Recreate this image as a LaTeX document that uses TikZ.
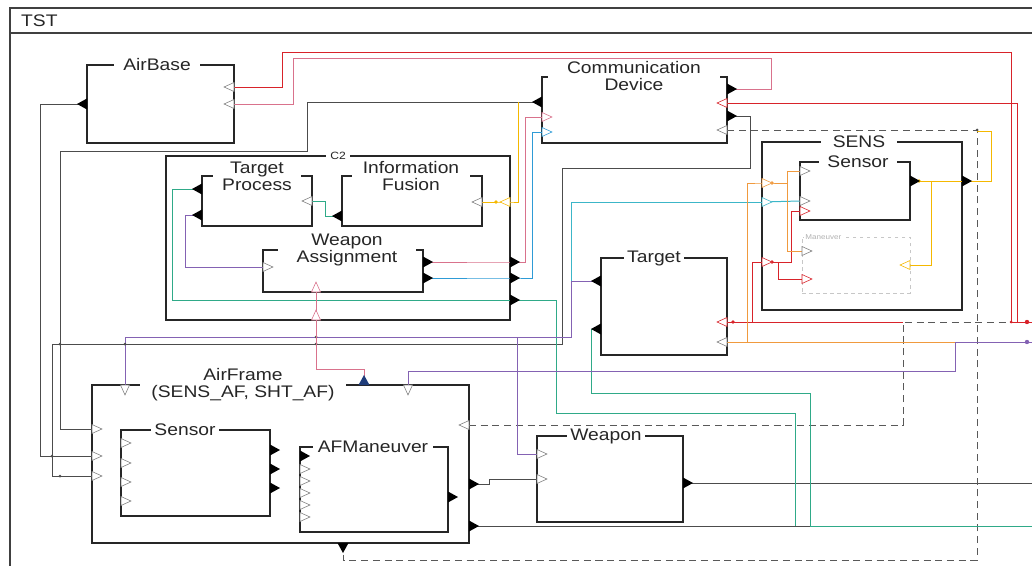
\documentclass[tikz,border=0pt]{standalone}
\usepackage{fontspec}
\setmainfont{Liberation Sans}[FakeStretch=1.15]
\usetikzlibrary{calc,fit}

\newcommand\ttlfont{\fontsize{14.3}{14.5}\selectfont}
\definecolor{redw}{HTML}{D8232A}
\definecolor{pinkw}{HTML}{D9728C}
\definecolor{yelw}{HTML}{F5B800}
\definecolor{bluew}{HTML}{2E9BD6}
\definecolor{tealw}{HTML}{2FAA88}
\definecolor{purpw}{HTML}{8462B3}
\definecolor{orangew}{HTML}{F09A3E}
\definecolor{cyanw}{HTML}{3CB6C8}
\definecolor{navyw}{HTML}{1F3C7A}

\tikzset{
  frame/.style={draw=black!75, line width=2pt},
  blk/.style={draw=black!85, line width=1.4pt, inner sep=0pt},
  subblk/.style={draw=black!22, dashed, line width=0.6pt, inner sep=0pt},
  ttl/.style={fill=white, inner ysep=0.5pt, inner xsep=#1, align=center, font=\ttlfont, text=black!85},
  ttl/.default=4pt,
  wire/.style={line width=0.85pt},
  gw/.style={wire, draw=black!70},
  dw/.style={wire, draw=black!65, dash pattern=on 6pt off 4pt},
  rw/.style={wire, draw=redw},
  pw/.style={wire, draw=pinkw},
  yw/.style={wire, draw=yelw},
  bw/.style={wire, draw=bluew},
  tw/.style={wire, draw=tealw},
  vw/.style={wire, draw=purpw},
  ow/.style={wire, draw=orangew},
  cw/.style={wire, draw=cyanw},
  jd/.style={fill=#1},
  pics/ip/.style={code={\draw[draw=#1, fill=white, line width=0.5pt] (0,-4.5) -- (10,0) -- (0,4.5) -- cycle;}},
  pics/ip/.default=black!50,
  pics/op/.style={code={\fill[#1] (0,-5.5) -- (10,0) -- (0,5.5) -- cycle;}},
  pics/op/.default=black,
}

\begin{document}
\begin{tikzpicture}[x=0.03cm,y=-0.03cm]
  \useasboundingbox (0,0) rectangle (1032,566);
  \draw[frame] (10,570) -- (10,8) -- (1040,8);
  \draw[draw=black!75, line width=1.2pt] (10,33) -- (1040,33);
  \node[anchor=west, font=\ttlfont, text=black!85] (tst) at (17,21) {TST};

  % blocks
  \node[blk, fit={(87,65) (234,143)}] (airbase) {};
  \node[blk, fit={(542,77) (727,143)}] (commdev) {};
  \node[blk, fit={(166,156) (510,320)}] (c2) {};
  \node[blk, fit={(202,176) (312,226)}] (tproc) {};
  \node[blk, fit={(342,176) (482,226)}] (ifus) {};
  \node[blk, fit={(263,250) (423,292)}] (wassign) {};
  \node[blk, fit={(762,142) (962,310)}] (sens) {};
  \node[blk, fit={(800,162) (910,220)}] (ssensor) {};
  \node[subblk, fit={(802,237) (910,293)}] (smanv) {};
  \node[blk, fit={(601,258) (727,355)}] (target) {};
  \node[blk, fit={(92,385) (469,543)}] (airframe) {};
  \node[blk, fit={(121,430) (270,516)}] (afsensor) {};
  \node[blk, fit={(300,447) (448,532)}] (afmanv) {};
  \node[blk, fit={(537,436) (683,522)}] (weapon) {};

  % ports
  \coordinate (ab-o) at (87,104);
  \coordinate (ab-i1) at (234,87);
  \coordinate (ab-i2) at (234,104);
  \coordinate (cd-o1) at (542,102);
  \coordinate (cd-i1) at (542,117);
  \coordinate (cd-i2) at (542,132);
  \coordinate (cd-o2) at (727,89);
  \coordinate (cd-i3) at (727,103);
  \coordinate (cd-o3) at (727,116);
  \coordinate (cd-i4) at (727,130);
  \coordinate (c2-i1) at (510,202);
  \coordinate (c2-o1) at (510,262);
  \coordinate (c2-o2) at (510,278);
  \coordinate (c2-o3) at (510,300);
  \coordinate (c2-i2) at (316,320);
  \coordinate (tp-o1) at (202,189);
  \coordinate (tp-o2) at (202,215);
  \coordinate (tp-i) at (312,201);
  \coordinate (if-o) at (342,216);
  \coordinate (if-i) at (482,202);
  \coordinate (wa-i1) at (263,267);
  \coordinate (wa-i2) at (316,292);
  \coordinate (wa-o1) at (423,262);
  \coordinate (wa-o2) at (423,278);
  \coordinate (sn-i1) at (762,183);
  \coordinate (sn-i2) at (762,202);
  \coordinate (sn-i3) at (762,262);
  \coordinate (sn-o) at (962,181);
  \coordinate (ss-i1) at (800,171);
  \coordinate (ss-i2) at (800,201);
  \coordinate (ss-i3) at (800,211);
  \coordinate (ss-o) at (910,181);
  \coordinate (sm-i1) at (802,251);
  \coordinate (sm-i2) at (802,279);
  \coordinate (sm-i3) at (910,265);
  \coordinate (tg-o1) at (601,281);
  \coordinate (tg-o2) at (601,329);
  \coordinate (tg-i1) at (727,322);
  \coordinate (tg-i2) at (727,342);
  \coordinate (af-i1) at (92,429);
  \coordinate (af-i2) at (92,456);
  \coordinate (af-i3) at (92,476);
  \coordinate (af-t1) at (125,385);
  \coordinate (af-t2) at (408,385);
  \coordinate (af-to) at (364,385);
  \coordinate (af-i4) at (469,425);
  \coordinate (af-o1) at (469,484);
  \coordinate (af-o2) at (469,526);
  \coordinate (af-bo) at (343,543);
  \coordinate (wp-i1) at (537,454);
  \coordinate (wp-i2) at (537,479);
  \coordinate (wp-o) at (683,483);
  \coordinate (ext-r) at (1032,322);
  \coordinate (ext-v) at (1032,342);
  \coordinate (ext-w) at (1032,483);
  \coordinate (ext-t) at (1032,526);

  % couplings
  \draw[gw] (ab-o) -- (40,104) -- (40,456) -- (af-i2);
  \draw[gw] (cd-o1) -- (307,102) -- (307,151) -- (60,151) -- (60,429) -- (af-i1);
  \draw[gw] (cd-o3) -- (750,116) -- (750,168) -- (562,168) -- (562,344) -- (52,344) -- (52,476) -- (af-i3);
  \draw[gw] (af-o1) -- (489,484) -- (489,479) -- (wp-i2);
  \draw[gw] (wp-o) -- (ext-w);
  \draw[gw] (af-o2) -- (810,526);
  \draw[dw] (af-bo) -- (343,560) -- (977,560) -- (977,130) -- (cd-i4);
  \draw[dw] (af-i4) -- (903,425) -- (903,322) -- (1011,322);
  \draw[yw] (sn-o) -- (991,181) -- (991,131) -- (977,131);
  \draw[rw] (ab-i1) -- (282,87) -- (282,52) -- (1011,52) -- (1011,322);
  \draw[rw] (cd-i3) -- (1017,103) -- (1017,322);
  \draw[rw] (1011,322) -- (ext-r);
  \draw[rw] (tg-i1) -- (903,322);
  \draw[rw] (sn-i3) -- (752,262) -- (752,322);
  \draw[rw] (sn-i3) -- (791,262) -- (791,211) -- (ss-i3);
  \draw[rw] (778,262) -- (778,279) -- (sm-i2);
  \draw[pw] (ab-i2) -- (293,104) -- (293,58) -- (771,58) -- (771,89) -- (cd-o2);
  \draw[pw] (wa-o1) -- (c2-o1) -- (525,262) -- (525,117) -- (cd-i1);
  \draw[bw] (wa-o2) -- (c2-o2) -- (532,278) -- (532,132) -- (cd-i2);
  \draw[yw] (518,102) -- (518,202) -- (c2-i1) -- (if-i);
  \draw[yw] (ss-o) -- (sn-o);
  \draw[yw] (931,181) -- (931,265) -- (sm-i3);
  \draw[tw] (tp-o1) -- (172,189) -- (172,300) -- (c2-o3);
  \draw[tw] (if-o) -- (325,216) -- (325,201) -- (tp-i);
  \draw[tw] (c2-o3) -- (556,300) -- (556,413) -- (795,413) -- (795,526);
  \draw[tw] (tg-o2) -- (591,329) -- (591,393) -- (810,393) -- (810,526) -- (ext-t);
  \draw[vw] (tp-o2) -- (185,215) -- (185,267) -- (wa-i1);
  \draw[vw] (tg-o1) -- (571,281) -- (571,337) -- (125,337) -- (af-t1);
  \draw[vw] (517,337) -- (517,454) -- (wp-i1);
  \draw[vw] (955,342) -- (ext-v);
  \draw[vw] (955,342) -- (955,371) -- (408,371) -- (af-t2);
  \draw[cw] (sn-i2) -- (571,202) -- (571,281);
  \draw[cw] (sn-i2) -- (ss-i2);
  \draw[ow] (tg-i2) -- (955,342);
  \draw[ow] (747,342) -- (747,183) -- (sn-i1) -- (787,183);
  \draw[ow] (787,171) -- (787,251) -- (sm-i1);
  \draw[ow] (787,171) -- (ss-i1);

  % joints
  \fill[jd=redw] (1027,322) circle (2.2) (772,262) circle (1.8) (733,322) circle (1.8) (1011,322) circle (1.5);
  \fill[jd=purpw] (1027,342) circle (2.2);
  \fill[jd=orangew] (772,183) circle (1.8);
  \fill[jd=yelw] (496,202) circle (1.8) (919,181) circle (1.8);
  \fill[jd=black!70] (60,344) circle (1.5) (125,344) circle (1.5) (316,337) circle (1.5) (316,344) circle (1.5) (977,130) circle (1.5) (60,476) circle (1.5) (52,456) circle (1.5);

  % titles
  \node[ttl=8pt] (airbaseT) at (157,65) {AirBase};
  \node[ttl=16pt] (commdevT) at (634,76) {Communication\\Device};
  \node[ttl=4pt, font=\fontsize{9}{10}\selectfont] (c2T) at (338,156) {C2};
  \node[ttl=8pt] (tprocT) at (257,176) {Target\\Process};
  \node[ttl=9pt] (ifusT) at (411,176) {Information\\Fusion};
  \node[ttl=16pt] (wassignT) at (347,250) {Weapon\\Assignment};
  \node[ttl=10pt] (sensT) at (859,142) {SENS};
  \node[ttl=7pt] (ssensorT) at (858,162) {Sensor};
  \node[anchor=west, fill=white, inner sep=1pt, text=black!30, font=\fontsize{6}{7}\selectfont] (smanvT) at (804,237) {Maneuver};
  \node[ttl=3pt] (targetT) at (654,258) {Target};
  \node[ttl=10pt] (airframeT) at (243,385) {AirFrame\\(SENS\_AF, SHT\_AF)};
  \node[ttl=3pt] (afsensorT) at (185,430) {Sensor};
  \node[ttl=4pt] (afmanvT) at (373,447) {AFManeuver};
  \node[ttl=3pt] (weaponT) at (606,436) {Weapon};
  % this one runs over the AirFrame title fill
  \draw[pw] (wa-i2) -- (316,369) -- (364,369) -- (af-to);

  % port symbols
  \foreach \p in {ab-o,cd-o1,tp-o1,tp-o2,if-o,tg-o1,tg-o2}
    \pic[rotate=180] at (\p) {op};
  \foreach \p in {cd-o2,cd-o3,c2-o1,c2-o2,c2-o3,wa-o1,wa-o2,sn-o,ss-o,af-o1,af-o2,wp-o}
    \pic at (\p) {op};
  \foreach \y in {450,469,488}
    \pic at (270,\y) {op};
  \pic at (448,497) {op};
  \pic at (300,456) {op};
  \pic[rotate=90] at (af-to) {op=navyw};
  \pic[rotate=-90] at (af-bo) {op};
  \foreach \p in {ab-i1,ab-i2,cd-i4,if-i,tp-i,tg-i2,af-i4}
    \pic[rotate=180] at (\p) {ip};
  \pic[rotate=180] at (cd-i3) {ip=redw};
  \pic[rotate=180] at (c2-i1) {ip=yelw};
  \pic[rotate=180] at (tg-i1) {ip=redw};
  \pic[rotate=180] at (sm-i3) {ip=yelw};
  \foreach \p in {wa-i1,af-i1,af-i2,af-i3,wp-i1,wp-i2,ss-i1,ss-i2,sm-i1}
    \pic at (\p) {ip};
  \foreach \y in {443,463,482,501}
    \pic at (121,\y) {ip};
  \foreach \y in {469,481,493,505,517}
    \pic at (300,\y) {ip};
  \pic at (cd-i1) {ip=pinkw};
  \pic at (cd-i2) {ip=bluew};
  \pic at (sn-i1) {ip=orangew};
  \pic at (sn-i2) {ip=cyanw};
  \pic at (sn-i3) {ip=redw};
  \pic at (ss-i3) {ip=redw};
  \pic at (sm-i2) {ip=redw};
  \pic[rotate=90] at (wa-i2) {ip=pinkw};
  \pic[rotate=90] at (c2-i2) {ip=pinkw};
  \pic[rotate=-90] at (af-t1) {ip};
  \pic[rotate=-90] at (af-t2) {ip};
\end{tikzpicture}
\end{document}
